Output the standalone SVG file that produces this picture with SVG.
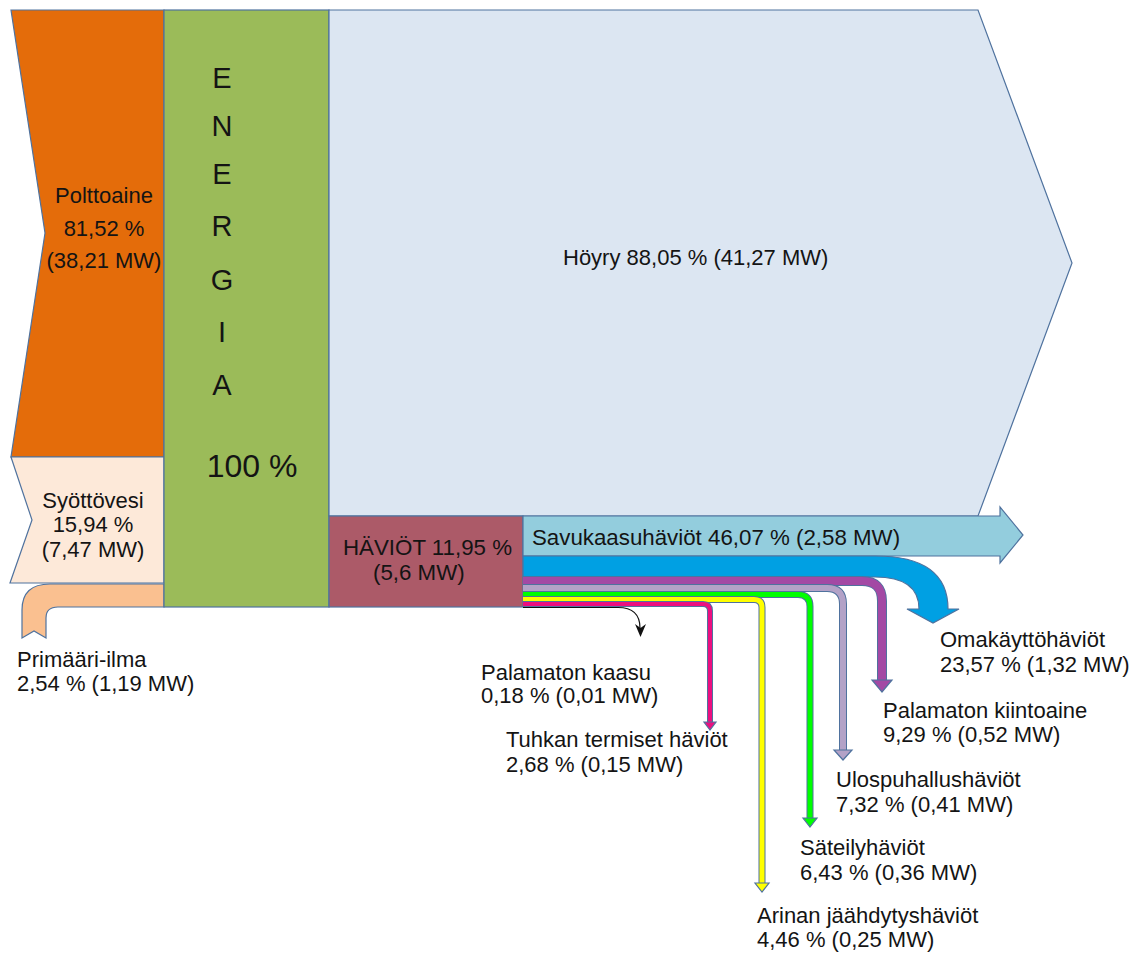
<svg xmlns="http://www.w3.org/2000/svg" width="1144" height="953" viewBox="0 0 1144 953">
<style>
text{font-family:"Liberation Sans",Arial,sans-serif;fill:#141414;font-size:22px}
.ol{stroke:#4f729e;stroke-width:1.2;stroke-linejoin:miter}
.mid{text-anchor:middle}
.big{font-size:29px}
.huge{font-size:32px}
.l22{font-size:22.3px}
.edge{fill:none;stroke:#4f729e;stroke-linecap:butt}
</style>
<rect width="1144" height="953" fill="#ffffff"/>
<g id="polttoaine">
<polygon class="ol" points="11,10 164,10 164,457 11,457 45,233" fill="#e46c0a"/>
<text class="mid" x="104" y="203">Polttoaine</text>
<text class="mid" x="104" y="236">81,52 %</text>
<text class="mid" x="104" y="268">(38,21 MW)</text>
</g>
<g id="syottovesi">
<polygon class="ol" points="11,457 164,457 164,583 10,583 32,520" fill="#fde9d9"/>
<text class="mid" x="93" y="508">Syöttövesi</text>
<text class="mid" x="93" y="532">15,94 %</text>
<text class="mid" x="93" y="557">(7,47 MW)</text>
</g>
<g id="primaari-ilma">
<path class="ol" d="M164 584 L50 584 Q22 584 22 610 L22 638 L34 631 L46 638 L46 618 Q46 607 58 607 L164 607 Z" fill="#fac090"/>
<text x="17" y="667">Primääri-ilma</text>
<text x="17" y="691">2,54 % (1,19 MW)</text>
</g>
<g id="energia">
<rect class="ol" x="164" y="10" width="165" height="597" fill="#9bbb59"/>
<text class="mid big" x="222" y="88">E</text>
<text class="mid big" x="222" y="136">N</text>
<text class="mid big" x="222" y="184">E</text>
<text class="mid big" x="222" y="236">R</text>
<text class="mid big" x="222" y="290">G</text>
<text class="mid big" x="222" y="342">I</text>
<text class="mid big" x="222" y="395">A</text>
<text class="mid huge" x="252" y="477">100 %</text>
</g>
<g id="hoyry">
<polygon class="ol" points="329,10 978,10 1072,263 978,516 329,516" fill="#dce6f2"/>
<text x="563" y="265">Höyry 88,05 % (41,27 MW)</text>
</g>
<g id="haviot">
<rect class="ol" x="329" y="516" width="194" height="91" fill="#ac5a68"/>
<text class="l22" x="343" y="555">HÄVIÖT 11,95 %</text>
<text class="l22" x="373" y="580">(5,6 MW)</text>
</g>
<g id="connectors">
<g id="savukaasu">
<path class="ol" d="M523 516 L1000 516 L1000 507 L1023 535 L1000 563 L1000 556 L523 556 Z" fill="#93cddd"/>
</g>
<g id="omakaytto">
<path class="ol" d="M523 556 L875 556 Q948 556 948 609 L959 609 L933 623 L907 609 L919 609 Q919 577 875 577 L523 577 Z" fill="#00a0e3"/>
</g>
<g id="palamaton-kiintoaine">
<path class="edge" stroke-width="10" d="M523 581 L862 581 Q882 581 882 601 L882 681"/>
<path fill="none" stroke="#a349a4" stroke-width="8" d="M523 581 L862 581 Q882 581 882 601 L882 681"/>
<polygon class="ol" points="872,680 892,680 882,692" fill="#a349a4"/>
</g>
<g id="ulospuhallus">
<path class="edge" stroke-width="8" d="M523 588 L827 588 Q843 588 843 604 L843 751"/>
<path fill="none" stroke="#b3a2c7" stroke-width="6" d="M523 588 L827 588 Q843 588 843 604 L843 751"/>
<polygon class="ol" points="834,750 852,750 843,760" fill="#b3a2c7"/>
</g>
<g id="sateily">
<path class="edge" stroke-width="7" d="M523 594.5 L798 594.5 Q810 594.5 810 606.5 L810 819"/>
<path fill="none" stroke="#00ff00" stroke-width="5" d="M523 594.5 L798 594.5 Q810 594.5 810 606.5 L810 819"/>
<polygon class="ol" points="803,818 817,818 810,827" fill="#00ff00"/>
</g>
<g id="arina">
<path class="edge" stroke-width="7" d="M523 599.5 L754 599.5 Q762 599.5 762 607.5 L762 884"/>
<path fill="none" stroke="#ffff00" stroke-width="5" d="M523 599.5 L754 599.5 Q762 599.5 762 607.5 L762 884"/>
<polygon class="ol" points="755,883 769,883 762,892" fill="#ffff00"/>
</g>
<g id="tuhka">
<path class="edge" stroke-width="6" d="M523 604 L703 604 Q710 604 710 611 L710 723"/>
<path fill="none" stroke="#ec0f80" stroke-width="4" d="M523 604 L703 604 Q710 604 710 611 L710 723"/>
<polygon class="ol" points="704,722 716,722 710,730" fill="#ec0f80"/>
</g>
<g id="kaasu">
<path fill="none" stroke="#111" stroke-width="1.2" d="M523 607.5 L618 607.5 Q640 607.5 640 628"/>
<path d="M640.5 637 L635 624 L640.5 628 L646 624 Z" fill="#111"/>
</g>
</g>
<g id="labels">
<text x="481" y="680">Palamaton kaasu</text>
<text x="481" y="703">0,18 % (0,01 MW)</text>
<text x="506" y="747">Tuhkan termiset häviöt</text>
<text x="506" y="772">2,68 % (0,15 MW)</text>
<text x="940" y="647">Omakäyttöhäviöt</text>
<text x="940" y="672">23,57 % (1,32 MW)</text>
<text x="883" y="718">Palamaton kiintoaine</text>
<text x="883" y="742">9,29 % (0,52 MW)</text>
<text x="836" y="787">Ulospuhallushäviöt</text>
<text x="836" y="812">7,32 % (0,41 MW)</text>
<text x="800" y="855">Säteilyhäviöt</text>
<text x="800" y="880">6,43 % (0,36 MW)</text>
<text x="757" y="923">Arinan jäähdytyshäviöt</text>
<text x="757" y="947">4,46 % (0,25 MW)</text>
</g>
<g id="savukaasu-label">
<text class="l22" x="532" y="545">Savukaasuhäviöt 46,07 % (2,58 MW)</text>
</g>
</svg>
